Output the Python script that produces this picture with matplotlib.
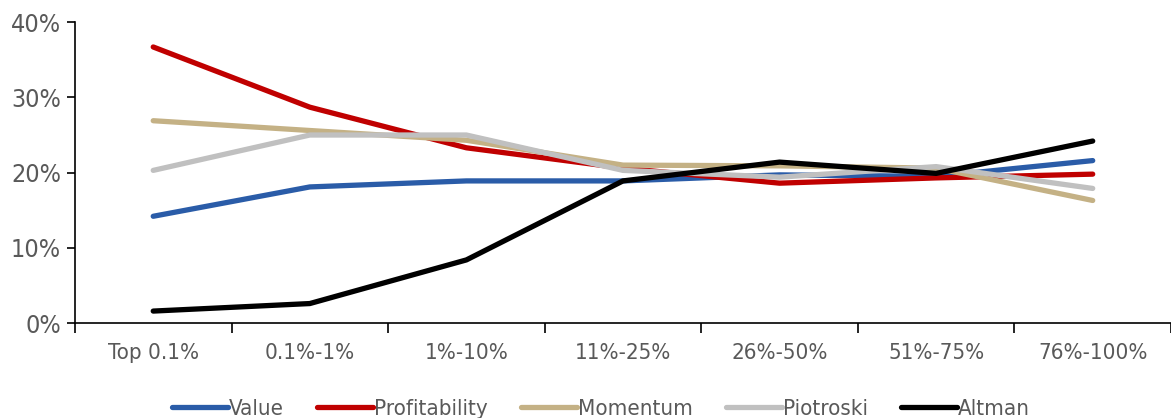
import matplotlib.pyplot as plt
from matplotlib.ticker import PercentFormatter

categories = ['Top 0.1%', '0.1%-1%', '1%-10%', '11%-25%', '26%-50%', '51%-75%', '76%-100%']

value = [14.2, 18.1, 18.9, 18.9, 19.7, 19.5, 21.6]
profitability = [36.7, 28.7, 23.3, 20.6, 18.6, 19.3, 19.8]
momentum = [26.9, 25.6, 24.3, 21.0, 20.9, 20.6, 16.3]
piotroski = [20.3, 25.0, 25.0, 20.3, 19.4, 20.8, 17.9]
altman = [1.6, 2.6, 8.4, 18.9, 21.4, 19.9, 24.2]

series = [
    ('Value', value, '#2A5CA8'),
    ('Profitability', profitability, '#C00000'),
    ('Momentum', momentum, '#C4B185'),
    ('Piotroski', piotroski, '#C0C0C0'),
    ('Altman', altman, '#000000'),
]

plt.rcParams['font.family'] = ['DejaVu Sans']
plt.rcParams['font.stretch'] = 'condensed'
txt = '#595959'

fig = plt.figure(figsize=(11.71, 4.18), dpi=100)
ax = fig.add_axes([0.064, 0.227, 0.936, 0.720])

x = range(len(categories))
for name, vals, col in series:
    ax.plot(x, vals, color=col, lw=3.8, label=name, solid_capstyle='round')

ax.set_xlim(-0.5, len(categories) - 0.5)
ax.set_ylim(0, 40)
ax.set_yticks([0, 10, 20, 30, 40])
ax.yaxis.set_major_formatter(PercentFormatter(decimals=0))

# category names sit between the boundary ticks
ax.set_xticks([i + 0.5 for i in range(-1, len(categories))])
ax.set_xticklabels([])
ax.set_xticks(list(x), minor=True)
ax.set_xticklabels(categories, minor=True)
ax.tick_params(axis='x', which='minor', length=0, pad=14, labelsize=16, labelcolor=txt)
ax.tick_params(axis='x', which='major', length=7, width=1.2, direction='out')
ax.tick_params(axis='y', length=6, width=1.2, direction='out', labelsize=18, labelcolor=txt, pad=4)

for s in ['top', 'right']:
    ax.spines[s].set_visible(False)
for s in ['left', 'bottom']:
    ax.spines[s].set_linewidth(1.2)

ax.legend(loc='upper center', bbox_to_anchor=(0.48, -0.185), ncol=5, frameon=False,
          fontsize=16, labelcolor=txt, handlelength=2.5, handletextpad=0.05,
          columnspacing=1.5)

fig.savefig('out.png', dpi=100)
